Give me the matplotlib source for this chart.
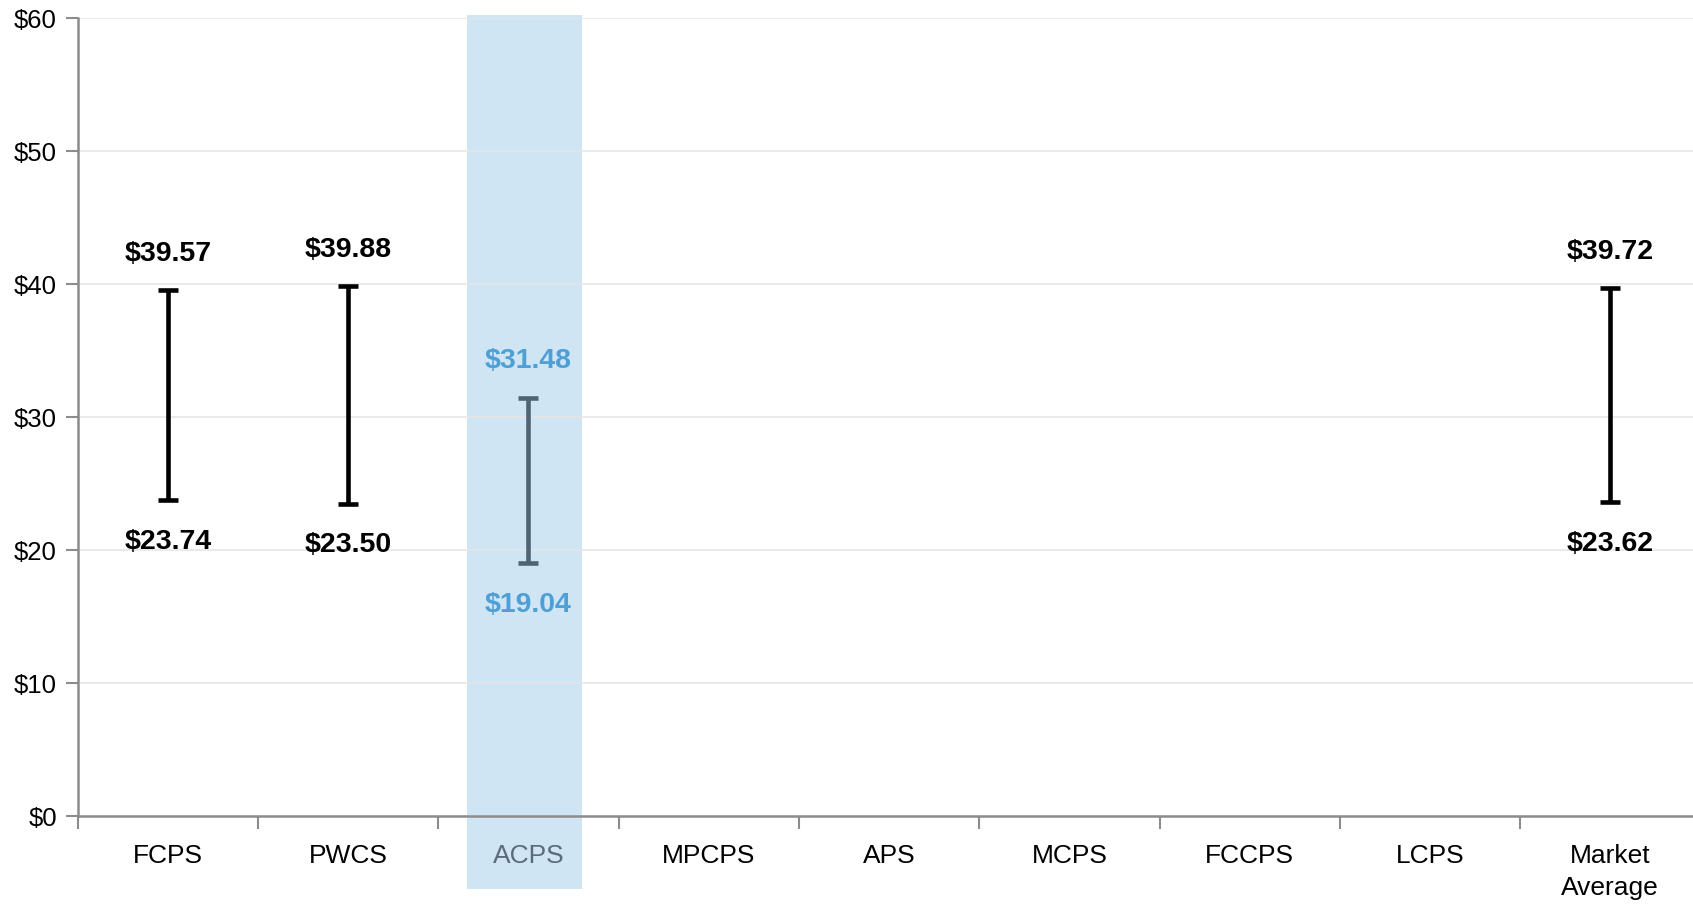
import matplotlib
matplotlib.use("Agg")
import matplotlib.pyplot as plt
import matplotlib.transforms as mtransforms
from matplotlib.patches import Rectangle
import numpy as np

categories = ["FCPS", "PWCS", "ACPS", "MPCPS", "APS", "MCPS", "FCCPS", "LCPS", "Market\nAverage"]
low_values = [23.74, 23.50, 19.04, None, None, None, None, None, 23.62]
high_values = [39.57, 39.88, 31.48, None, None, None, None, None, 39.72]
y_ticks = [0, 10, 20, 30, 40, 50, 60]
highlight = "ACPS"

FONT = ["Liberation Sans Narrow", "Liberation Sans", "DejaVu Sans"]
plt.rcParams["font.family"] = FONT

fig = plt.figure(figsize=(16.93, 9.09), dpi=100)
ax = fig.add_axes([0.0459, 0.1023, 0.9585, 0.8775])

ax.set_xlim(-0.5, len(categories) - 0.5)
ax.set_ylim(0, 60)

hi_idx = categories.index(highlight)
trans = mtransforms.blended_transform_factory(ax.transData, ax.transAxes)
ax.add_patch(Rectangle((hi_idx - 0.341, -0.0915), 0.64, 1.0958, transform=trans,
                       facecolor="#cfe5f3", edgecolor="none", zorder=0, clip_on=False))

ax.set_axisbelow(True)
ax.yaxis.grid(True, color="#e6e6e6", linewidth=1.2, zorder=0.6)
ax.set_yticks(y_ticks)
ax.set_yticklabels([f"${v}" for v in y_ticks], fontsize=18.5)

ax.set_xticks(range(len(categories)))
ax.set_xticklabels(categories, fontsize=19, linespacing=1.45)
ax.set_xticks(np.arange(-0.5, len(categories), 1.0), minor=True)
ax.tick_params(axis="x", which="major", length=0, pad=20)
ax.tick_params(axis="x", which="minor", length=9, width=1.5, color="#8c8c8c")
ax.tick_params(axis="y", length=9, width=1.5, color="#8c8c8c", pad=6)
for lbl in ax.get_xticklabels():
    if lbl.get_text() == highlight:
        lbl.set_color("#5a6b79")

for s in ["top", "right"]:
    ax.spines[s].set_visible(False)
for s in ["left", "bottom"]:
    ax.spines[s].set_color("#8c8c8c")
    ax.spines[s].set_linewidth(1.8)

for i, (lo, hi) in enumerate(zip(low_values, high_values)):
    if lo is None:
        continue
    is_hi = categories[i] == highlight
    bar_color = "#4e6374" if is_hi else "#000000"
    txt_color = "#4e9fd6" if is_hi else "#000000"
    mid = (lo + hi) / 2
    ax.errorbar([i], [mid], yerr=[[mid - lo], [hi - mid]], fmt="none",
                ecolor=bar_color, elinewidth=3.3, capsize=7.2, capthick=3.3, zorder=3)
    ax.annotate(f"${hi:.2f}", (i, hi), xytext=(0, 26), textcoords="offset points",
                ha="center", va="center", fontsize=20.5, fontweight="bold", color=txt_color)
    ax.annotate(f"${lo:.2f}", (i, lo), xytext=(0, -30), textcoords="offset points",
                ha="center", va="center", fontsize=20.5, fontweight="bold", color=txt_color)

fig.savefig("out.png", dpi=100)
